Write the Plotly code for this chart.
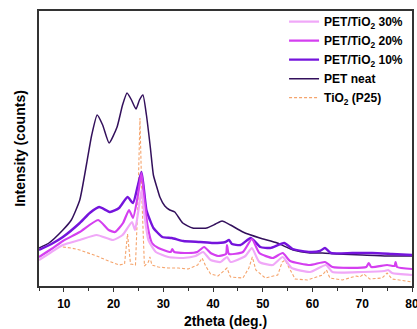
import plotly.graph_objects as go

# Values (arbitrary intensity units)
neat_x = [5.0, 7.0, 9.8, 11.5, 13.2, 14.6, 15.6, 16.7, 17.8, 19.1, 20.7, 21.8, 22.7, 23.6, 24.5, 25.2, 25.9, 26.6, 27.4, 28.0, 28.8, 29.3, 30.3, 31.3, 32.3, 33.9, 35.9, 38.7, 40.5, 41.8, 43.5, 46.0, 49.4, 52.9, 56.1, 59.5, 62.0, 65.0, 70.0, 75.0, 80.0]
neat_y = [38, 43, 56, 66, 86, 123, 151, 171, 161, 143, 159, 181, 193, 186, 177, 186, 191, 171, 138, 111, 97, 89, 80, 76, 74, 63, 58, 58, 62, 65, 61, 54, 48, 43, 36, 33, 33, 32, 31, 30, 30]

p10_x = [5.0, 7.5, 9.8, 13.2, 15.2, 17.1, 19.3, 21.1, 22.8, 23.9, 24.9, 25.6, 26.0, 26.6, 27.3, 28.0, 29.8, 31.7, 34.0, 37.4, 40.0, 42.5, 43.2, 43.8, 45.5, 47.6, 49.5, 51.5, 54.3, 56.0, 59.5, 61.5, 62.5, 63.7, 68.0, 72.0, 76.0, 80.0]
p10_y = [36, 42, 49, 63, 73, 79, 74, 78, 89, 83, 101, 114, 101, 76, 66, 58, 49, 48, 45, 44, 43, 44, 46, 42, 41, 48, 39, 38, 43, 37, 34, 35, 38, 33, 33, 33, 32, 31]

p20_x = [5.0, 7.5, 9.8, 13.2, 16.9, 19.0, 20.3, 21.9, 23.1, 23.9, 24.9, 25.6, 26.2, 26.8, 27.7, 29.0, 31.5, 31.8, 32.2, 35.0, 36.8, 38.2, 39.5, 41.0, 42.6, 42.8, 43.2, 46.0, 47.8, 49.3, 52.0, 54.0, 55.5, 59.5, 62.5, 64.0, 70.8, 71.3, 71.8, 75.0, 76.5, 76.7, 77.0, 80.0]
p20_y = [29, 37, 45, 54, 66, 56, 54, 63, 76, 68, 91, 113, 86, 61, 43, 38, 34, 37, 34, 33, 34, 39, 33, 30, 32, 41, 32, 34, 47, 33, 28, 33, 25, 21, 24, 19, 19, 23, 19, 21, 20, 24, 19, 17]

p30_x = [5.0, 7.2, 9.8, 13.2, 16.6, 19.9, 21.8, 23.7, 24.3, 25.0, 25.6, 26.2, 27.0, 28.5, 31.0, 34.0, 36.5, 38.0, 39.5, 41.5, 42.8, 43.5, 46.5, 47.8, 49.3, 52.0, 54.0, 55.8, 59.5, 62.7, 64.0, 70.0, 74.5, 75.2, 76.0, 80.0]
p30_y = [26, 33, 41, 46, 51, 46, 51, 64, 56, 76, 96, 71, 46, 34, 29, 28, 30, 34, 26, 24, 29, 24, 30, 38, 24, 21, 29, 18, 14, 21, 14, 14, 15, 16, 13, 11]

tio2_x = [9.8, 11.5, 13.2, 15.0, 16.6, 18.5, 19.9, 21.1, 22.2, 22.8, 23.4, 24.4, 24.9, 25.3, 25.7, 26.2, 27.0, 27.3, 27.7, 29.0, 31.0, 33.0, 35.0, 36.9, 37.8, 38.5, 39.5, 41.0, 42.8, 43.5, 46.0, 47.2, 47.9, 48.6, 50.5, 53.0, 53.9, 54.5, 55.1, 56.5, 59.0, 62.0, 62.8, 63.5, 66.0, 68.8, 69.5, 70.3, 71.5, 74.0, 75.0, 76.0, 80.0]
tio2_y = [39, 38, 36, 33, 30, 26, 23, 21, 22, 52, 22, 21, 86, 168, 86, 20, 24, 29, 21, 19, 18, 18, 17, 21, 28, 20, 12, 10, 18, 9, 8, 18, 29, 16, 8, 11, 24, 26, 20, 7, 6, 11, 16, 8, 6, 10, 9, 12, 7, 8, 13, 7, 4]

series = [
    ("<b>TiO<sub>2</sub> (P25)</b>", tio2_x, tio2_y, "#f5a46c", 1.1, "3px,2px", "linear"),
    ("<b>PET neat</b>", neat_x, neat_y, "#33105c", 1.5, "solid", "spline"),
    ("<b>PET/TiO<sub>2</sub> 10%</b>", p10_x, p10_y, "#7514dc", 2.4, "solid", "spline"),
    ("<b>PET/TiO<sub>2</sub> 20%</b>", p20_x, p20_y, "#d43ff0", 2.2, "solid", "spline"),
    ("<b>PET/TiO<sub>2</sub> 30%</b>", p30_x, p30_y, "#f0a8f8", 2.2, "solid", "spline"),
]

fig = go.Figure()
for name, xs, ys, col, w, dash, shape in series:
    line = dict(color=col, width=w, dash=dash, shape=shape)
    if shape == "spline":
        line["smoothing"] = 0.5
    fig.add_trace(go.Scatter(x=xs, y=ys, mode="lines", name=name, line=line))

fig.update_layout(
    width=417, height=329,
    margin=dict(l=39, r=5, t=11, b=43, autoexpand=False),
    paper_bgcolor="white", plot_bgcolor="white",
    font=dict(family="Liberation Sans, Arial, sans-serif", color="black"),
    showlegend=True,
    legend=dict(x=0.657, y=1.014, xanchor="left", yanchor="top",
                traceorder="reversed", bgcolor="rgba(0,0,0,0)",
                font=dict(size=12, color="black"), tracegroupgap=0),
    xaxis=dict(range=[5, 80], dtick=10, tick0=0, showgrid=False, zeroline=False,
               automargin=False, ticklabeloverflow="allow",
               showline=True, linecolor="#333333", linewidth=1.5, mirror=True,
               ticks="outside", ticklen=4, tickcolor="#333333", ticklabelstandoff=2,
               tickfont=dict(size=12, family="Liberation Sans, Arial, sans-serif"),
               tickprefix="<b>", ticksuffix="</b>",
               minor=dict(dtick=5, tick0=5, ticks="outside", ticklen=3, tickcolor="#333333"),
               title=dict(text="<b>2theta (deg.)</b>", font=dict(size=14), standoff=13)),
    yaxis=dict(range=[0, 275], showgrid=False, zeroline=False, showticklabels=False,
               automargin=False,
               showline=True, linecolor="#333333", linewidth=1.5, mirror=True, ticks="",
               title=dict(text="<b>Intensity (counts)</b>", font=dict(size=14), standoff=8)),
)

fig.write_html("out.html", config={"displayModeBar": False},
               post_script="document.body.style.margin='0';")
